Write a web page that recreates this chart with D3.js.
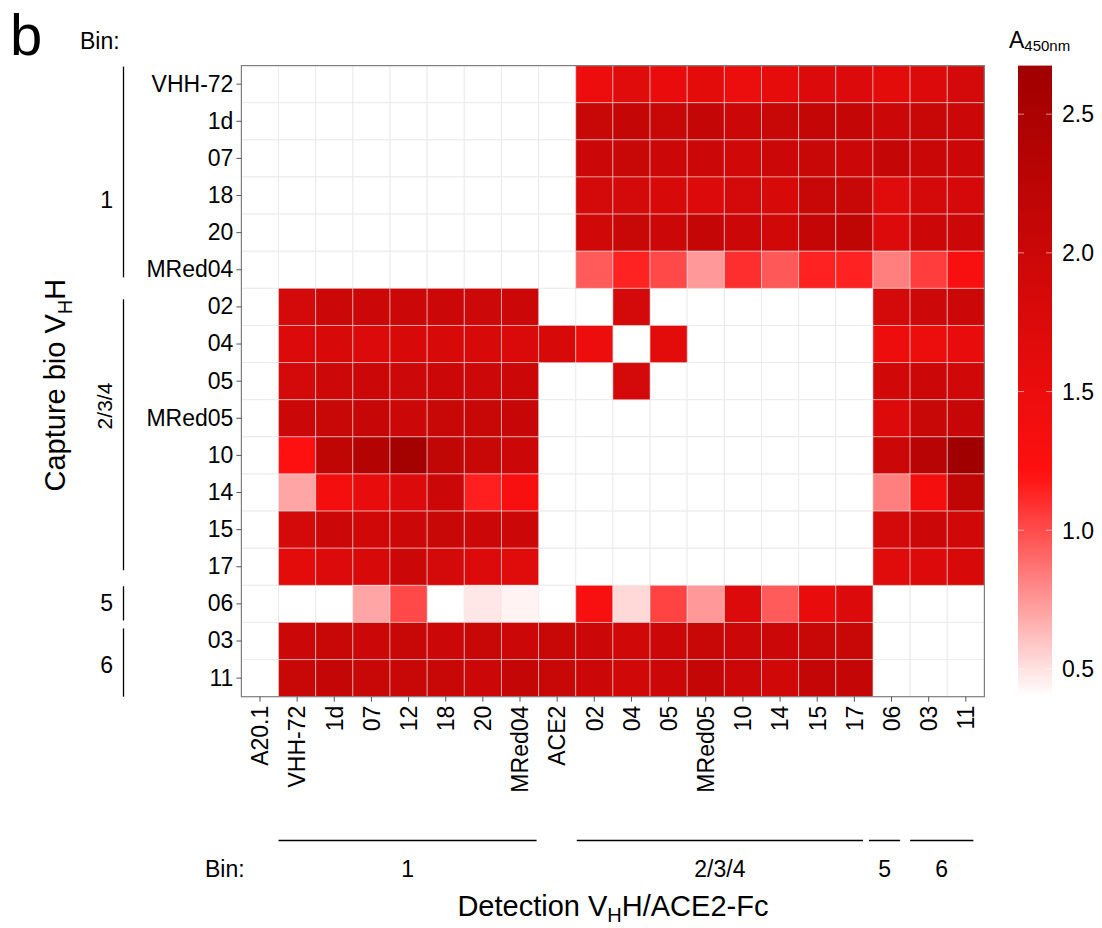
<!DOCTYPE html>
<html>
<head>
<meta charset="utf-8">
<script src="https://cdn.jsdelivr.net/npm/d3@7"></script>
<style>
  body { margin: 0; background: #fff; }
  svg text { font-family: "Liberation Sans", Arial, Helvetica, sans-serif; fill: #000; }
</style>
</head>
<body>
<svg id="chart" width="1102" height="928"></svg>
<script>
// Detection reagents (columns) and capture VHHs (rows)
const detectionLabels = ["A20.1", "VHH-72", "1d", "07", "12", "18", "20", "MRed04", "ACE2",
  "02", "04", "05", "MRed05", "10", "14", "15", "17", "06", "03", "11"];
const captureLabels = ["VHH-72", "1d", "07", "18", "20", "MRed04", "02", "04", "05", "MRed05",
  "10", "14", "15", "17", "06", "03", "11"];

// A450nm per capture row, one value per detection column (null = not measured / blank)
const _ = null;
const absorbance = [
  [_, _, _, _, _, _, _, _, _, 1.46, 1.68, 1.53, 1.62, 1.50, 1.59, 1.74, 1.74, 1.62, 1.74, 1.87],
  [_, _, _, _, _, _, _, _, _, 2.05, 2.12, 2.05, 2.12, 1.99, 2.05, 2.12, 2.12, 1.99, 2.05, 1.99],
  [_, _, _, _, _, _, _, _, _, 1.99, 2.05, 1.99, 1.99, 1.93, 1.99, 2.05, 1.99, 2.12, 2.02, 1.99],
  [_, _, _, _, _, _, _, _, _, 1.87, 1.87, 1.81, 1.74, 1.87, 1.81, 2.05, 2.05, 1.68, 1.87, 1.85],
  [_, _, _, _, _, _, _, _, _, 1.93, 2.05, 1.99, 2.12, 1.99, 1.93, 2.12, 2.18, 1.74, 1.99, 1.99],
  [_, _, _, _, _, _, _, _, _, 0.95, 1.14, 1.01, 0.74, 1.10, 0.96, 1.14, 1.14, 0.83, 1.05, 1.31],
  [_, 1.87, 1.99, 1.99, 2.00, 1.99, 1.97, 2.00, _, _, 1.87, _, _, _, _, _, _, 1.87, 1.97, 1.99],
  [_, 1.74, 1.81, 1.74, 1.82, 1.80, 1.81, 1.76, 1.81, 1.46, _, 1.62, _, _, _, _, _, 1.46, 1.50, 1.56],
  [_, 1.87, 1.97, 1.99, 1.97, 1.99, 1.97, 2.00, _, _, 1.87, _, _, _, _, _, _, 1.93, 1.99, 1.93],
  [_, 1.99, 2.05, 2.07, 2.00, 2.05, 2.05, 2.07, _, _, _, _, _, _, _, _, _, 1.74, 2.05, 2.07],
  [_, 1.22, 2.18, 2.36, 2.62, 2.16, 2.05, 1.99, _, _, _, _, _, _, _, _, _, 1.99, 2.30, 2.675],
  [_, 0.70, 1.37, 1.56, 1.74, 1.99, 1.15, 1.31, _, _, _, _, _, _, _, _, _, 0.83, 1.37, 2.18],
  [_, 1.87, 1.99, 1.93, 2.00, 2.05, 1.99, 2.00, _, _, _, _, _, _, _, _, _, 1.87, 1.99, 1.93],
  [_, 1.62, 1.74, 1.80, 1.99, 1.87, 1.74, 1.68, _, _, _, _, _, _, _, _, _, 1.68, 1.74, 1.80],
  [_, _, _, 0.70, 1.01, _, 0.48, 0.44, _, 1.31, 0.53, 1.03, 0.74, 1.74, 0.95, 1.56, 1.74, _, _, _],
  [_, 1.99, 2.05, 1.99, 2.05, 1.99, 2.05, 1.99, 2.05, 1.99, 1.93, 1.99, 2.05, 1.99, 1.99, 2.05, 2.05, _, _, _],
  [_, 2.05, 2.12, 2.05, 2.05, 2.05, 1.99, 2.12, 2.05, 1.99, 1.93, 1.99, 2.12, 1.99, 1.93, 2.12, 2.12, _, _, _]
];

// Colour scale anchors (A450nm) and colour-bar ticks
const scaleStops = [0.4, 1.2, 2.675];
const scaleColors = ["#ffffff", "#ff1010", "#a00000"];
const colorbarTicks = [0.5, 1.0, 1.5, 2.0, 2.5];

// Epitope bins for capture rows and detection columns (index ranges)
const captureBins = ["1", "2/3/4", "5", "6"];
const captureBinFirst = [0, 6, 14, 15];
const captureBinLast = [5, 13, 14, 16];
const detectionBins = ["1", "2/3/4", "5", "6"];
const detectionBinFirst = [1, 9, 17, 18];
const detectionBinLast = [7, 16, 17, 19];

// ---------- layout ----------
const panel = { left: 241.4, right: 984.4, top: 65.6, bottom: 696.7 };
const bar = { x: 1018, width: 34 };
const tickFont = 23;
const titleFont = 29;

const svg = d3.select("#chart");

const x = d3.scaleBand().domain(detectionLabels).range([panel.left, panel.right]).padding(0);
const y = d3.scaleBand().domain(captureLabels).range([panel.top, panel.bottom]).padding(0);
const color = d3.scaleLinear().domain(scaleStops).range(scaleColors)
  .interpolate(d3.interpolateRgb).clamp(true);

const cells = [];
captureLabels.forEach((r, i) => detectionLabels.forEach((c, j) => {
  cells.push({ row: r, col: c, value: absorbance[i][j] });
}));
// blanks first so coloured tiles sit on top
cells.sort((a, b) => (a.value == null ? 0 : 1) - (b.value == null ? 0 : 1));

svg.append("g").attr("class", "tiles")
  .selectAll("rect").data(cells).join("rect")
  .attr("x", d => x(d.col))
  .attr("y", d => y(d.row))
  .attr("width", x.bandwidth())
  .attr("height", y.bandwidth())
  .attr("fill", d => d.value == null ? "#ffffff" : color(d.value))
  .attr("stroke", d => d.value == null ? "#ebebeb" : "rgba(236,236,236,0.5)")
  .attr("stroke-width", 1);

// panel frame
svg.append("rect")
  .attr("x", panel.left).attr("y", panel.top)
  .attr("width", panel.right - panel.left).attr("height", panel.bottom - panel.top)
  .attr("fill", "none").attr("stroke", "#7f7f7f").attr("stroke-width", 1.2);

// y axis
const yAxis = svg.append("g")
  .attr("transform", `translate(${panel.left},0)`)
  .call(d3.axisLeft(y).tickSize(5).tickPadding(3));
yAxis.select(".domain").remove();
yAxis.selectAll(".tick line").attr("stroke", "#555");
yAxis.selectAll(".tick text").style("font-size", tickFont + "px")
  .style("font-family", '"Liberation Sans", Arial, sans-serif').attr("fill", "#000");

// x axis with vertical labels
const xAxis = svg.append("g")
  .attr("transform", `translate(0,${panel.bottom})`)
  .call(d3.axisBottom(x).tickSize(5));
xAxis.select(".domain").remove();
xAxis.selectAll(".tick line").attr("stroke", "#555");
xAxis.selectAll(".tick text")
  .attr("transform", "rotate(-90)")
  .attr("x", -9).attr("y", 0).attr("dy", "0.36em")
  .style("text-anchor", "end")
  .style("font-size", tickFont + "px")
  .style("font-family", '"Liberation Sans", Arial, sans-serif')
  .attr("fill", "#000");

// colour bar
const legendY = d3.scaleLinear().domain([scaleStops[0], scaleStops[2]]).range([panel.bottom, panel.top]);
const grad = svg.append("defs").append("linearGradient")
  .attr("id", "a450grad").attr("x1", 0).attr("y1", 1).attr("x2", 0).attr("y2", 0);
d3.range(0, 1.0001, 0.02).forEach(t => {
  const v = scaleStops[0] + t * (scaleStops[2] - scaleStops[0]);
  grad.append("stop").attr("offset", t).attr("stop-color", color(v));
});
svg.append("rect")
  .attr("x", bar.x).attr("y", panel.top)
  .attr("width", bar.width).attr("height", panel.bottom - panel.top)
  .attr("fill", "url(#a450grad)");
const legTicks = svg.append("g");
colorbarTicks.forEach(v => {
  const ty = legendY(v);
  legTicks.append("line").attr("x1", bar.x).attr("x2", bar.x + 6).attr("y1", ty).attr("y2", ty)
    .attr("stroke", "rgba(255,255,255,0.55)").attr("stroke-width", 1);
  legTicks.append("line").attr("x1", bar.x + bar.width - 6).attr("x2", bar.x + bar.width).attr("y1", ty).attr("y2", ty)
    .attr("stroke", "rgba(255,255,255,0.55)").attr("stroke-width", 1);
  legTicks.append("text").attr("x", bar.x + bar.width + 10).attr("y", ty).attr("dy", "0.36em")
    .style("font-size", tickFont + "px").text(d3.format(".1f")(v));
});
const legTitle = svg.append("text").attr("x", 1009).attr("y", 48).style("font-size", "23px");
legTitle.append("tspan").text("A");
legTitle.append("tspan").attr("dy", 3).style("font-size", "15px").text("450nm");

// axis titles
const yTitle = svg.append("text")
  .attr("transform", `translate(65,${(panel.top + panel.bottom) / 2 + 4}) rotate(-90)`)
  .attr("text-anchor", "middle").style("font-size", titleFont + "px");
yTitle.append("tspan").text("Capture bio V");
yTitle.append("tspan").attr("dy", 7).style("font-size", "20px").text("H");
yTitle.append("tspan").attr("dy", -7).text("H");

const xTitle = svg.append("text")
  .attr("x", (panel.left + panel.right) / 2).attr("y", 916)
  .attr("text-anchor", "middle").style("font-size", titleFont + "px");
xTitle.append("tspan").text("Detection V");
xTitle.append("tspan").attr("dy", 6).style("font-size", "20px").text("H");
xTitle.append("tspan").attr("dy", -6).text("H/ACE2-Fc");

// panel letter and bin captions
svg.append("text").attr("x", 10).attr("y", 55).style("font-size", "58px").text("b");
svg.append("text").attr("x", 80).attr("y", 49).style("font-size", tickFont + "px").text("Bin:");
svg.append("text").attr("x", 205).attr("y", 877).style("font-size", tickFont + "px").text("Bin:");

// capture bins: vertical brackets left of the row labels
const rowBinInset = [[1, 11], [11, 15], [1, 2], [6, 0]];
const rowBinLabelPos = [3.6, 9.17, 14.48, 16.15];   // in row units from the top
const bw = y.bandwidth();
captureBins.forEach((b, i) => {
  const y0 = y(captureLabels[captureBinFirst[i]]) + rowBinInset[i][0];
  const y1 = y(captureLabels[captureBinLast[i]]) + bw - rowBinInset[i][1];
  svg.append("line").attr("x1", 123.5).attr("x2", 123.5).attr("y1", y0).attr("y2", y1)
    .attr("stroke", "#000").attr("stroke-width", 1.3);
  const ly = panel.top + rowBinLabelPos[i] * bw;
  if (b.length > 1) {
    svg.append("text").attr("transform", `translate(112,${ly}) rotate(-90)`)
      .attr("text-anchor", "middle").style("font-size", "21px").text(b);
  } else {
    svg.append("text").attr("x", 113).attr("y", ly).attr("dy", "0.36em")
      .attr("text-anchor", "end").style("font-size", tickFont + "px").text(b);
  }
});

// detection bins: horizontal brackets under the column labels
const colBinInset = [[0, 2], [1, 10], [-4, 10], [0, 11]];
const cw = x.bandwidth();
detectionBins.forEach((b, i) => {
  const x0 = x(detectionLabels[detectionBinFirst[i]]) + colBinInset[i][0];
  const x1 = x(detectionLabels[detectionBinLast[i]]) + cw - colBinInset[i][1];
  svg.append("line").attr("x1", x0).attr("x2", x1).attr("y1", 840.5).attr("y2", 840.5)
    .attr("stroke", "#000").attr("stroke-width", 1.3);
  svg.append("text").attr("x", (x0 + x1) / 2).attr("y", 877)
    .attr("text-anchor", "middle").style("font-size", tickFont + "px").text(b);
});
</script>
</body>
</html>
